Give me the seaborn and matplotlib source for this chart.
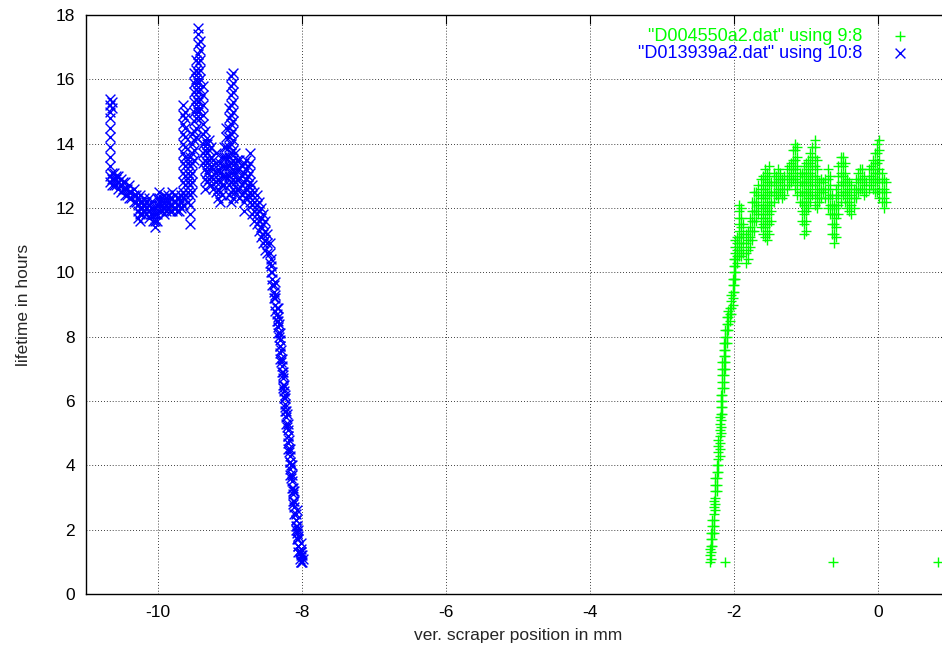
import matplotlib
matplotlib.use("Agg")
import matplotlib.pyplot as plt
import seaborn as sns
import pandas as pd

# Scan D013939a2: scraper position (col 10) and the lifetimes (col 8) logged there
blue_pos = [
    -10.66, -10.64, -10.61, -10.58, -10.55, -10.52, -10.49, -10.46, -10.43, -10.40,
    -10.37, -10.34, -10.31, -10.28, -10.25, -10.22, -10.19, -10.16, -10.13, -10.10,
    -10.07, -10.04, -10.01, -9.98, -9.95, -9.92, -9.89, -9.86, -9.83, -9.80,
    -9.77, -9.74, -9.71, -9.68, -9.65, -9.62, -9.59, -9.56, -9.53, -9.50,
    -9.47, -9.44, -9.41, -9.38, -9.35, -9.32, -9.29, -9.26, -9.23, -9.20,
    -9.17, -9.14, -9.11, -9.08, -9.05, -9.02, -8.99, -8.96, -8.93, -8.90,
    -8.87, -8.84, -8.81, -8.78, -8.75, -8.72, -8.69, -8.66, -8.63, -8.60,
    -8.57, -8.54, -8.51, -8.48, -8.45, -8.43, -8.41, -8.39, -8.37, -8.35,
    -8.33, -8.31, -8.30, -8.28, -8.27, -8.25, -8.23, -8.22, -8.20, -8.19,
    -8.17, -8.16, -8.14, -8.13, -8.11, -8.09, -8.07, -8.05, -8.02, -8.00,
    -7.99,
    -8.38, -8.34, -8.32, -8.29, -8.26, -8.24, -8.21, -8.18, -8.15, -8.12,
    -8.08, -8.06, -8.03, -8.01,
]
blue_life = [
    [12.8, 13.0, 13.3, 13.6, 13.9, 14.2, 14.5, 14.8, 15.0, 15.2, 15.4],
    [12.7, 12.9, 13.1, 15.1, 15.3],
    [12.7, 12.9, 13.1],
    [12.7, 12.9, 13.0],
    [12.6, 12.8, 13.0],
    [12.5, 12.7, 12.9],
    [12.6, 12.8],
    [12.4, 12.6, 12.8],
    [12.4, 12.6],
    [12.3, 12.5, 12.7],
    [12.3, 12.5],
    [12.2, 12.4, 12.6],
    [12.2, 12.4],
    [11.7, 11.9, 12.1, 12.3],
    [11.6, 11.8, 12.0, 12.2, 12.4],
    [11.8, 12.0, 12.2],
    [11.9, 12.1, 12.3],
    [11.8, 12.0, 12.2],
    [11.7, 11.9, 12.1, 12.3],
    [11.8, 12.0, 12.2],
    [11.6, 11.8, 12.0],
    [11.4, 11.6, 11.8, 12.0],
    [11.6, 11.8, 12.1, 12.3],
    [11.9, 12.1, 12.3, 12.5],
    [11.9, 12.1, 12.3],
    [11.8, 12.0, 12.2, 12.4],
    [11.9, 12.1, 12.3],
    [12.0, 12.2, 12.4],
    [11.9, 12.1, 12.3],
    [11.9, 12.1, 12.3, 12.5],
    [12.0, 12.2, 12.4],
    [11.9, 12.1, 12.3],
    [11.9, 12.1, 12.3],
    [12.0, 12.2, 12.4],
    [12.1, 12.3, 12.5, 12.8, 13.1, 13.4, 13.7, 14.0, 14.3, 14.6, 14.9, 15.2],
    [12.4, 12.7, 13.0, 13.3, 13.6, 13.9, 14.2, 14.5, 14.8, 15.0],
    [12.2, 12.5, 12.8, 13.1, 13.4],
    [11.5, 11.8, 12.1, 12.4, 12.7, 13.0, 13.3, 13.6],
    [12.5, 12.8, 13.1, 13.4, 13.7, 14.0, 14.3],
    [13.5, 13.8, 14.1, 14.4, 14.7, 15.0, 15.3, 15.6, 15.9, 16.2],
    [14.2, 14.5, 14.8, 15.1, 15.4, 15.7, 16.0, 16.3, 16.6],
    [15.0, 15.3, 15.6, 15.9, 16.2, 16.5, 16.8, 17.1, 17.4, 17.6],
    [14.8, 15.1, 15.4, 15.7, 16.0, 16.3, 16.6, 16.9, 17.2],
    [13.4, 13.7, 14.0, 14.3, 14.6, 14.9, 15.2, 15.5, 15.8],
    [12.6, 12.9, 13.2, 13.5, 13.8, 14.1, 14.4],
    [12.8, 13.1, 13.4, 13.7, 14.0],
    [12.9, 13.2, 13.5, 13.8, 14.1],
    [12.7, 13.0, 13.3, 13.6, 13.9],
    [12.6, 12.9, 13.2, 13.5],
    [12.5, 12.8, 13.1, 13.4, 13.7],
    [12.3, 12.6, 12.9, 13.2],
    [12.2, 12.5, 12.8, 13.1, 13.4],
    [12.4, 12.7, 13.0, 13.3, 13.6],
    [12.7, 13.0, 13.3, 13.6, 13.9],
    [13.0, 13.3, 13.6, 13.9, 14.2, 14.5],
    [12.4, 12.7, 13.0, 13.3, 13.6, 13.9, 14.2, 14.5, 14.8, 15.1],
    [12.2, 12.5, 12.8, 13.1, 13.4, 13.7, 14.0, 14.3, 14.6, 14.9, 15.2, 15.5, 15.8, 16.1],
    [12.3, 12.6, 12.9, 13.2, 13.5, 13.8, 14.1, 14.4, 14.7, 15.0, 15.3, 15.6, 15.9, 16.2],
    [12.5, 12.8, 13.1, 13.4, 13.7],
    [12.6, 12.9, 13.2, 13.5],
    [12.3, 12.6, 12.9, 13.2, 13.5],
    [12.4, 12.7, 13.0, 13.3],
    [11.9, 12.2, 12.5, 12.8, 13.1, 13.4],
    [12.3, 12.6, 12.9, 13.2, 13.5],
    [12.4, 12.7, 13.0, 13.3],
    [12.2, 12.5, 12.8, 13.1, 13.4, 13.7],
    [11.8, 12.1, 12.4, 12.7],
    [11.6, 11.9, 12.2, 12.5],
    [11.5, 11.8, 12.1, 12.4],
    [11.3, 11.6, 11.9, 12.2],
    [11.1, 11.4, 11.7, 12.0],
    [10.9, 11.2, 11.5, 11.8],
    [10.7, 11.0, 11.3, 11.6],
    [10.6, 10.9, 11.2],
    [10.3, 10.6, 10.9],
    [10.0, 10.2, 10.4],
    [9.6, 9.8, 10.0],
    [9.2, 9.4, 9.6],
    [8.8, 9.0, 9.2],
    [8.5, 8.7, 8.9],
    [8.1, 8.3, 8.5],
    [7.7, 7.9, 8.1],
    [7.3, 7.5, 7.7],
    [6.9, 7.1, 7.3],
    [6.5, 6.7, 6.9],
    [6.1, 6.3, 6.5],
    [5.7, 5.9, 6.1],
    [5.3, 5.5, 5.7],
    [4.9, 5.1, 5.3],
    [4.5, 4.7, 4.9],
    [4.1, 4.3, 4.5],
    [3.7, 3.9, 4.1],
    [3.3, 3.5, 3.7, 4.0],
    [2.9, 3.1, 3.3],
    [2.5, 2.7, 2.9, 3.2],
    [2.1, 2.3, 2.5],
    [1.7, 1.9, 2.1, 2.6],
    [1.3, 1.5, 1.7, 2.0],
    [1.0, 1.2, 1.4, 1.6],
    [1.0, 1.2],
    [1.1],
    [9.3, 9.7],
    [8.6, 8.9],
    [8.0, 8.4],
    [7.2, 7.6],
    [6.4, 6.8],
    [5.8, 6.2],
    [5.2, 5.6],
    [4.4, 4.8],
    [3.6, 4.0],
    [2.8, 3.2],
    [2.0, 2.3],
    [1.5, 1.8],
    [1.1, 1.3],
    [1.0, 1.3],
]

# Scan D004550a2: scraper position (col 9) and the lifetimes (col 8) logged there
green_pos = [
    -2.34, -2.32, -2.30, -2.28, -2.26, -2.24, -2.22, -2.20, -2.18, -2.16,
    -2.14, -2.12, -2.10, -2.08, -2.06, -2.04, -2.02, -2.00, -1.98, -1.96,
    -1.93, -1.90, -1.87, -1.84, -1.81, -1.78, -1.75, -1.72, -1.69, -1.66,
    -1.63, -1.60, -1.57, -1.54, -1.51, -1.48, -1.45, -1.42, -1.39, -1.36,
    -1.33, -1.30, -1.27, -1.24, -1.21, -1.18, -1.15, -1.12, -1.09, -1.06,
    -1.03, -1.00, -0.97, -0.94, -0.91, -0.88, -0.85, -0.82, -0.79, -0.76,
    -0.73, -0.70, -0.67, -0.64, -0.61, -0.58, -0.55, -0.52, -0.49, -0.46,
    -0.43, -0.40, -0.37, -0.34, -0.31, -0.28, -0.25, -0.22, -0.19, -0.16,
    -0.13, -0.10, -0.07, -0.04, -0.01, 0.02, 0.05, 0.08, 0.11,
    -2.12, -0.62, 0.84,
]
green_life = [
    [1.0, 1.2, 1.4],
    [1.1, 1.3, 1.5, 1.7, 1.9],
    [1.5, 1.7, 1.9, 2.1, 2.3],
    [1.9, 2.1, 2.3, 2.5, 2.7, 2.9],
    [2.6, 2.8, 3.0, 3.2, 3.4, 3.6],
    [3.2, 3.4, 3.6, 3.8, 4.0],
    [3.8, 4.0, 4.2, 4.4, 4.6, 4.8],
    [4.3, 4.5, 4.7, 4.9, 5.1, 5.3, 5.5],
    [5.0, 5.2, 5.4, 5.6, 5.8, 6.0, 6.2],
    [5.6, 5.8, 6.0, 6.2, 6.4, 6.6, 6.8, 7.0, 7.2],
    [6.4, 6.6, 6.8, 7.0, 7.2, 7.4, 7.6, 7.8],
    [7.0, 7.2, 7.4, 7.6, 7.8, 8.0, 8.2],
    [7.8, 8.0, 8.2, 8.4, 8.6],
    [8.2, 8.4, 8.6, 8.8],
    [8.5, 8.7, 8.9],
    [8.7, 8.9, 9.1, 9.3],
    [9.0, 9.2, 9.4, 9.6, 9.8],
    [9.4, 9.6, 9.8, 10.0, 10.2, 10.4],
    [9.8, 10.0, 10.2, 10.4, 10.6, 10.8, 11.0],
    [10.3, 10.5, 10.7, 10.9, 11.1],
    [10.5, 10.7, 10.9, 11.1, 11.3, 11.5, 11.7, 11.9, 12.1],
    [10.5, 10.8, 11.1, 11.4, 11.7, 12.0],
    [10.6, 10.9, 11.2, 11.5],
    [10.3, 10.6, 10.9, 11.2],
    [10.4, 10.7, 11.0, 11.3],
    [10.8, 11.1, 11.4, 11.7],
    [11.0, 11.3, 11.6, 11.9, 12.2],
    [11.3, 11.6, 11.9, 12.2, 12.5],
    [11.6, 11.9, 12.2, 12.5],
    [11.8, 12.1, 12.4, 12.7],
    [11.4, 11.7, 12.0, 12.3, 12.6, 12.9],
    [11.2, 11.5, 11.8, 12.1, 12.4, 12.7, 13.0],
    [11.1, 11.4, 11.7, 12.0, 12.3, 12.6, 12.9, 13.2],
    [11.0, 11.3, 11.6, 11.9, 12.2, 12.5, 12.8, 13.1],
    [11.2, 11.5, 11.8, 12.1, 12.4, 12.7, 13.0, 13.3],
    [11.6, 11.9, 12.2, 12.5, 12.8],
    [12.2, 12.5, 12.8, 13.1],
    [12.4, 12.7, 13.0],
    [12.3, 12.6, 12.9, 13.2],
    [12.5, 12.8, 13.1],
    [12.3, 12.6, 12.9],
    [12.4, 12.7, 13.0],
    [12.6, 12.9, 13.2],
    [12.7, 13.0, 13.3],
    [12.8, 13.1, 13.4],
    [12.9, 13.2, 13.5, 13.8],
    [12.6, 12.9, 13.2, 13.5, 13.8, 14.0],
    [12.4, 12.7, 13.0, 13.3, 13.6, 13.9],
    [12.2, 12.5, 12.8, 13.1],
    [11.6, 11.9, 12.2, 12.5, 12.8, 13.1],
    [11.2, 11.5, 11.8, 12.1, 12.4, 12.7, 13.0, 13.3],
    [11.3, 11.6, 11.9, 12.2, 12.5, 12.8, 13.1, 13.4],
    [12.0, 12.3, 12.6, 12.9, 13.2, 13.5],
    [12.2, 12.5, 12.8, 13.1, 13.4, 13.7],
    [12.4, 12.7, 13.0, 13.3, 13.6, 13.9],
    [12.1, 12.4, 12.7, 13.0, 13.3, 13.6, 13.9, 14.1],
    [12.0, 12.3, 12.6, 12.9, 13.2, 13.5],
    [12.2, 12.5, 12.8],
    [12.3, 12.6, 12.9],
    [12.5, 12.8],
    [12.3, 12.6, 12.9],
    [12.0, 12.3, 12.6, 12.9, 13.2],
    [11.8, 12.1, 12.4, 12.7, 13.0],
    [11.2, 11.5, 11.8, 12.1, 12.4],
    [10.9, 11.2, 11.5, 11.8, 12.1],
    [11.1, 11.4, 11.7, 12.0, 12.3, 12.6],
    [11.8, 12.1, 12.4, 12.7, 13.0, 13.3],
    [12.2, 12.5, 12.8, 13.1, 13.4, 13.6],
    [12.4, 12.7, 13.0, 13.3, 13.6],
    [12.2, 12.5, 12.8, 13.1, 13.4],
    [12.0, 12.3, 12.6, 12.9],
    [11.9, 12.2, 12.5, 12.8],
    [11.8, 12.1, 12.4, 12.7],
    [12.0, 12.3, 12.6],
    [12.3, 12.6, 12.9],
    [12.5, 12.8, 13.1],
    [12.6, 12.9, 13.2],
    [12.6, 12.9, 13.2],
    [12.4, 12.7, 13.0],
    [12.5, 12.8],
    [12.6, 12.9, 13.2],
    [12.7, 13.0, 13.3],
    [12.6, 12.9, 13.2, 13.5],
    [12.5, 12.8, 13.1, 13.4, 13.7],
    [12.5, 12.8, 13.1, 13.4, 13.7, 14.0],
    [12.3, 12.6, 12.9, 13.2, 13.5, 13.8, 14.1],
    [12.2, 12.5, 12.8, 13.1],
    [12.0, 12.3, 12.6, 12.9],
    [12.2, 12.5, 12.8],
    [1.0],
    [1.0],
    [1.0],
]

green_label = '"D004550a2.dat" using 9:8'
blue_label = '"D013939a2.dat" using 10:8'
green_color = "#00ff00"
blue_color = "#0000ff"

x_ticks = [-10, -8, -6, -4, -2, 0]
y_ticks = [0, 2, 4, 6, 8, 10, 12, 14, 16, 18]


def to_frame(positions, lifetimes):
    rows = [(p, v) for p, vals in zip(positions, lifetimes) for v in vals]
    return pd.DataFrame(rows, columns=["pos", "lifetime"])


green_df = to_frame(green_pos, green_life)
blue_df = to_frame(blue_pos, blue_life)

sns.set_style("white")
plt.rcParams["font.family"] = ["Liberation Sans", "DejaVu Sans"]
plt.rcParams["axes.unicode_minus"] = False

fig = plt.figure(figsize=(9.42, 6.56), dpi=100)
ax = fig.add_axes([86 / 942, 62 / 656, 864 / 942, 579 / 656])

sns.scatterplot(data=green_df, x="pos", y="lifetime", marker="+", s=55,
                color=green_color, linewidth=1.0, ax=ax, label=green_label, zorder=3)
sns.scatterplot(data=blue_df, x="pos", y="lifetime", marker="x", s=50,
                color=blue_color, linewidth=1.0, ax=ax, label=blue_label, zorder=3)

ax.set_xlim(-11, 1)
ax.set_ylim(0, 18)
ax.set_xticks(x_ticks)
ax.set_yticks(y_ticks)
ax.grid(True, color="black", linestyle=(0, (1, 2.5)), linewidth=0.6)
ax.set_axisbelow(True)

for side in ["left", "bottom", "top", "right"]:
    ax.spines[side].set_color("black")
    ax.spines[side].set_linewidth(1.0)

ax.tick_params(axis="both", direction="in", length=6.5, width=0.8, labelsize=12.5,
               colors="black", top=True, right=True)
ax.tick_params(axis="x", pad=8)
ax.tick_params(axis="y", pad=8)

ax.set_xlabel("ver. scraper position in mm", fontsize=12.5, labelpad=6)
ax.set_ylabel("lifetime in hours", fontsize=12.5, labelpad=18)

leg = ax.legend(loc="upper right", bbox_to_anchor=(914 / 942, 1 - 28 / 656),
                bbox_transform=fig.transFigure, frameon=False, markerfirst=False,
                fontsize=13, borderpad=0, borderaxespad=0, labelspacing=0.0,
                handlelength=1.6, handletextpad=1.25)
for text, col in zip(leg.get_texts(), [green_color, blue_color]):
    text.set_color(col)

fig.savefig("out.png", dpi=100)
